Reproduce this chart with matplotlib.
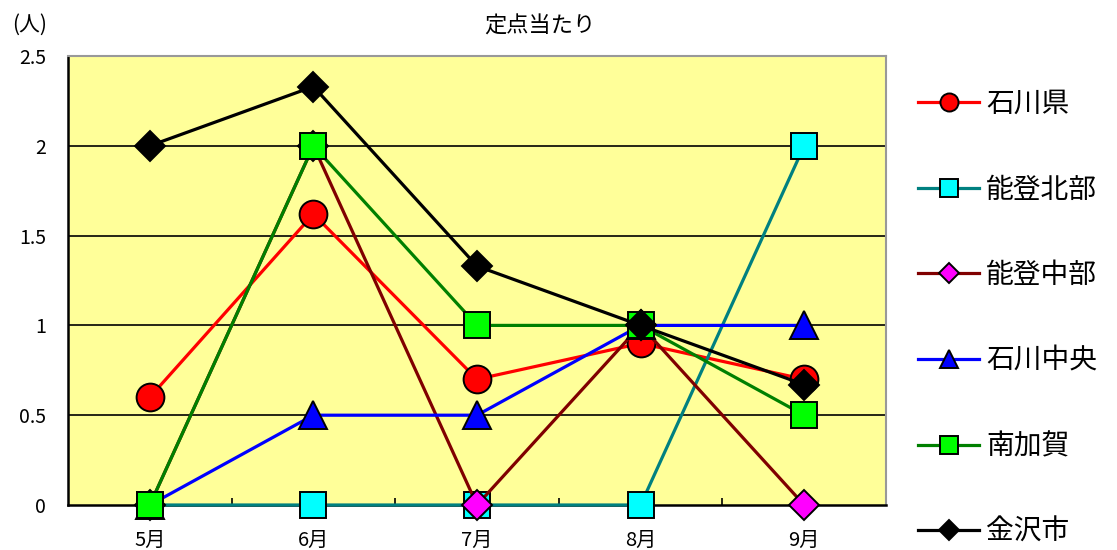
import matplotlib
matplotlib.use("Agg")
import matplotlib.pyplot as plt
import numpy as np

plt.rcParams['font.family'] = ['Noto Sans CJK JP', 'DejaVu Sans']

months = ["5月", "6月", "7月", "8月", "9月"]
ishikawa = [0.6, 1.62, 0.7, 0.9, 0.7]
noto_hokubu = [0, 0, 0, 0, 2]
noto_chubu = [0, 2, 0, 1, 0]
ishikawa_chuo = [0, 0.5, 0.5, 1, 1]
minami_kaga = [0, 2, 1, 1, 0.5]
kanazawa = [2, 2.33, 1.33, 1, 0.67]

series = [
    ("石川県", ishikawa, "#FF0000", "o", "#FF0000", 20),
    ("能登北部", noto_hokubu, "#008080", "s", "#00FFFF", 19),
    ("能登中部", noto_chubu, "#800000", "D", "#FF00FF", 15),
    ("石川中央", ishikawa_chuo, "#0000FF", "^", "#0000FF", 20),
    ("南加賀", minami_kaga, "#008000", "s", "#00FF00", 19),
    ("金沢市", kanazawa, "#000000", "D", "#000000", 15),
]

fig = plt.figure(figsize=(11.17, 5.5), dpi=100)
ax = fig.add_axes([68/1117, 45/550, 818/1117, 449/550])
ax.set_facecolor("#FFFF99")

x = np.arange(len(months))
for yv in [0.5, 1.0, 1.5, 2.0]:
    ax.axhline(yv, color="black", lw=1.2, zorder=1)

handles = []
for name, vals, lc, m, mc, ms in series:
    h, = ax.plot(x, vals, color=lc, lw=2.3, marker=m, markersize=ms,
                 markerfacecolor=mc, markeredgecolor="black", markeredgewidth=1.4,
                 label=name, zorder=3, clip_on=False)
    handles.append(h)

ax.set_xlim(-0.5, 4.5)
ax.set_ylim(0, 2.5)
ax.set_yticks([0, 0.5, 1, 1.5, 2, 2.5])
ax.set_yticklabels(["0", "0.5", "1", "1.5", "2", "2.5"], fontsize=14)
ax.tick_params(axis="y", length=0, pad=16)
ax.set_xticks(x)
ax.set_xticklabels(months, fontsize=14.5)
ax.tick_params(axis="x", length=0, pad=18)
ax.set_xticks([0.5, 1.5, 2.5, 3.5], minor=True)
ax.tick_params(axis="x", which="minor", direction="in", length=5, width=1.2, color="black")

for s in ["left", "bottom"]:
    ax.spines[s].set_color("black")
    ax.spines[s].set_linewidth(1.8)
for s in ["top", "right"]:
    ax.spines[s].set_color("#999999")
    ax.spines[s].set_linewidth(1.5)

fig.text(540/1117, 1 - 26/550, "定点当たり", ha="center", va="center", fontsize=16)
fig.text(30/1117, 1 - 25/550, "(人)", ha="center", va="center", fontsize=15)

leg = fig.legend(handles=handles, loc="upper left", bbox_to_anchor=(893/1117, 1 - 64/550),
                 frameon=False, fontsize=20, labelspacing=2.0, handlelength=2.2,
                 handletextpad=0.25, markerscale=0.65)

fig.savefig("out.png", dpi=100)
